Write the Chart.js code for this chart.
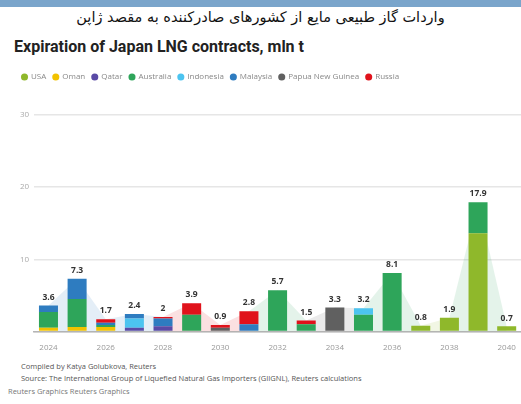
<!DOCTYPE html>
<html>
<head>
<meta charset="utf-8">
<script src="https://cdn.jsdelivr.net/npm/chart.js@4"></script>
<style>
  body { margin: 0; width: 521px; height: 404px; background: #fff; position: relative; overflow: hidden; font-family: "Open Sans", sans-serif; }
  #band { position: absolute; left: 0; top: 0; width: 521px; height: 7px; background: #7aa5cb; }
  #fa { position: absolute; top: 9px; left: 0; width: 521px; text-align: center; direction: rtl; font-family: "DejaVu Sans", sans-serif; font-size: 14.5px; color: #111; }
  #title { position: absolute; left: 14px; top: 37px; font-family: Roboto, sans-serif; font-weight: 700; font-size: 16px; color: #222; white-space: nowrap; }
  #wrap { position: absolute; left: 0; top: 60px; width: 521px; height: 300px; }
  .foot { position: absolute; font-size: 7.5px; color: #555; white-space: nowrap; }
</style>
</head>
<body>
<div id="band"></div>
<div id="fa">واردات گاز طبیعی مایع از کشورهای صادرکننده به مقصد ژاپن</div>
<div id="title">Expiration of Japan LNG contracts, mln t</div>
<div id="wrap"><canvas id="chart" width="521" height="300"></canvas></div>
<div class="foot" style="left:21px; top:361px;">Compiled by Katya Golubkova, Reuters</div>
<div class="foot" style="left:21px; top:373px;">Source: The International Group of Liquefied Natural Gas Importers (GIIGNL), Reuters calculations</div>
<div class="foot" style="left:8px; top:386px; color:#777;">Reuters Graphics Reuters Graphics</div>
<script>
// contract expiries by year, mln t
var years = ["2024", "2025", "2026", "2027", "2028", "2029", "2030", "2031", "2032",
             "2033", "2034", "2035", "2036", "2037", "2038", "2039", "2040"];

var usa       = [0,   0,   0,   0,   0,   0,   0,   0,   0,   0,   0,   0,   0,   0.8, 1.9, 13.6, 0.7];
var oman      = [0.5, 0.6, 0.6, 0,   0,   0,   0,   0,   0,   0,   0,   0,   0,   0,   0,   0,    0];
var qatar     = [0,   0,   0,   0.5, 0.7, 0,   0,   0,   0,   0,   0,   0,   0,   0,   0,   0,    0];
var australia = [2.2, 3.9, 0.3, 0,   0,   2.3, 0,   0,   5.7, 1.0, 0,   2.3, 8.1, 0,   0,   4.3,  0];
var indonesia = [0,   0,   0,   1.3, 0,   0,   0,   0,   0,   0,   0,   0.9, 0,   0,   0,   0,    0];
var malaysia  = [0.9, 2.8, 0.3, 0.6, 1.1, 0,   0,   1.0, 0,   0,   0,   0,   0,   0,   0,   0,    0];
var png       = [0,   0,   0,   0,   0,   0,   0.5, 0,   0,   0,   3.3, 0,   0,   0,   0,   0,    0];
var russia    = [0,   0,   0.5, 0,   0.2, 1.6, 0.4, 1.8, 0,   0.5, 0,   0,   0,   0,   0,   0,    0];

var yTicks = [10, 20, 30];

var series = [
  { label: "USA", data: usa, color: "#8fb82b" },
  { label: "Oman", data: oman, color: "#f2c200" },
  { label: "Qatar", data: qatar, color: "#5a4aa6" },
  { label: "Australia", data: australia, color: "#2ea55a" },
  { label: "Indonesia", data: indonesia, color: "#4cc4f0" },
  { label: "Malaysia", data: malaysia, color: "#2e7cc0" },
  { label: "Papua New Guinea", data: png, color: "#606060" },
  { label: "Russia", data: russia, color: "#e0121b" }
];

var totals = years.map(function (y, i) {
  var s = 0;
  series.forEach(function (d) { s += d.data[i]; });
  return Math.round(s * 10) / 10;
});

// colour of the top segment of each bar
function topColor(i) {
  var c = "#999999";
  series.forEach(function (d) { if (d.data[i] > 0) c = d.color; });
  return c;
}

function hexAlpha(hex, a) {
  var n = parseInt(hex.slice(1), 16);
  return "rgba(" + (n >> 16) + "," + ((n >> 8) & 255) + "," + (n & 255) + "," + a + ")";
}

var datasets = series.map(function (d) {
  return {
    type: "bar",
    label: d.label,
    data: d.data,
    backgroundColor: d.color,
    stack: "c",
    order: 1,
    categoryPercentage: 0.8,
    barPercentage: 0.83
  };
});

// faint shading that links the bar tops
datasets.push({
  type: "line",
  label: "area",
  data: totals,
  stack: "area",
  order: 2,
  borderWidth: 0,
  borderColor: "rgba(0,0,0,0)",
  pointRadius: 0,
  fill: "origin",
  backgroundColor: "rgba(200,200,200,0.15)",
  segment: {
    backgroundColor: function (ctx) {
      var i = totals[ctx.p0DataIndex] >= totals[ctx.p1DataIndex] ? ctx.p0DataIndex : ctx.p1DataIndex;
      return hexAlpha(topColor(i), 0.13);
    }
  }
});

var totalLabels = {
  id: "totalLabels",
  afterDatasetsDraw: function (chart) {
    var ctx = chart.ctx;
    var x = chart.scales.x, y = chart.scales.y;
    ctx.save();
    ctx.font = "bold 8.5px 'Open Sans', sans-serif";
    ctx.fillStyle = "#333";
    ctx.textAlign = "center";
    ctx.textBaseline = "bottom";
    totals.forEach(function (t, i) {
      ctx.fillText(String(t), x.getPixelForValue(i), y.getPixelForValue(t) - 4);
    });
    ctx.restore();
  }
};

// extra gap under the legend
var legendGap = {
  id: "legendGap",
  beforeInit: function (chart) {
    var fit = chart.legend.fit;
    chart.legend.fit = function () {
      fit.call(this);
      this.height += 24;
    };
  }
};

new Chart(document.getElementById("chart").getContext("2d"), {
  data: { labels: years, datasets: datasets },
  plugins: [totalLabels, legendGap],
  options: {
    responsive: false,
    animation: false,
    devicePixelRatio: 1,
    layout: { padding: { left: 15, right: 0, top: 6, bottom: 3 } },
    plugins: {
      tooltip: { enabled: false },
      legend: {
        position: "top",
        align: "start",
        labels: {
          usePointStyle: true,
          pointStyle: "circle",
          boxWidth: 5,
          boxHeight: 5,
          padding: 7,
          color: "#888",
          font: { size: 8, family: "'Open Sans', sans-serif" },
          filter: function (item) { return item.text !== "area"; }
        }
      }
    },
    scales: {
      x: {
        stacked: true,
        grid: { display: false },
        border: { color: "#b5b5b5", width: 1.5 },
        ticks: {
          autoSkip: false,
          maxRotation: 0,
          padding: 4,
          color: "#999",
          font: { size: 8, family: "'Open Sans', sans-serif" },
          callback: function (v, i) { return i % 2 === 0 ? years[i] : ""; }
        }
      },
      y: {
        stacked: true,
        min: 0,
        max: 30,
        afterBuildTicks: function (axis) {
          axis.ticks = [{ value: 0 }].concat(yTicks.map(function (v) { return { value: v }; }));
        },
        grid: { color: "#e6e6e6", lineWidth: 1.5, drawTicks: false },
        border: { display: false },
        ticks: {
          padding: 5,
          color: "#aaa",
          font: { size: 8, family: "'Open Sans', sans-serif" },
          callback: function (v) { return v === 0 ? "" : v; }
        }
      }
    }
  }
});
</script>
</body>
</html>
